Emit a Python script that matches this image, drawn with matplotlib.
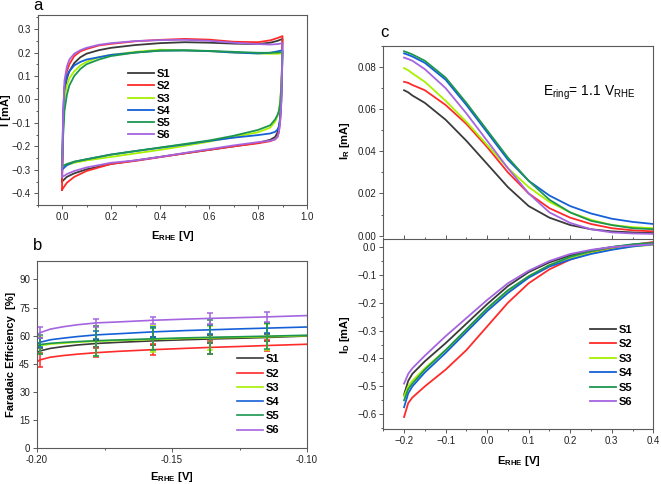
import matplotlib
matplotlib.use("Agg")
import matplotlib.pyplot as plt
import numpy as np
from matplotlib.ticker import MultipleLocator

plt.rcParams["font.family"] = ["Liberation Sans", "DejaVu Sans"]
plt.rcParams["mathtext.fontset"] = "custom"
plt.rcParams["mathtext.rm"] = "Liberation Sans"
plt.rcParams["mathtext.bf"] = "Liberation Sans:bold"
plt.rcParams["mathtext.it"] = "Liberation Sans:italic"

W, H = 661, 484

samples = ["S1", "S2", "S3", "S4", "S5", "S6"]
colors = ["#3a3a3a", "#ff2a2a", "#a6f000", "#1560d8", "#1d9650", "#a565e0"]

# --- panel a: cyclic voltammograms (anodic branch, then cathodic branch back to 0)
cv_e_up = [0.0, 0.005, 0.01, 0.02, 0.03, 0.05, 0.075, 0.1, 0.15, 0.2, 0.3, 0.4, 0.5,
           0.6, 0.7, 0.8, 0.85, 0.88, 0.9]
cv_i_up = {
    "S1": [-0.35, -0.10, 0.02, 0.09, 0.12, 0.155, 0.18, 0.195, 0.21, 0.22, 0.232, 0.240,
           0.244, 0.242, 0.238, 0.236, 0.242, 0.250, 0.258],
    "S2": [-0.385, -0.10, 0.05, 0.12, 0.15, 0.185, 0.205, 0.215, 0.23, 0.237, 0.248, 0.254,
           0.258, 0.255, 0.246, 0.244, 0.252, 0.262, 0.270],
    "S3": [-0.29, -0.10, 0.0, 0.06, 0.09, 0.12, 0.145, 0.16, 0.18, 0.19, 0.203, 0.212,
           0.210, 0.206, 0.200, 0.196, 0.195, 0.195, 0.196],
    "S4": [-0.30, -0.05, 0.05, 0.10, 0.12, 0.145, 0.16, 0.17, 0.18, 0.19, 0.200, 0.208,
           0.209, 0.206, 0.200, 0.196, 0.199, 0.205, 0.210],
    "S5": [-0.285, -0.15, -0.05, 0.02, 0.06, 0.10, 0.13, 0.15, 0.17, 0.185, 0.200, 0.208,
           0.209, 0.207, 0.203, 0.199, 0.199, 0.200, 0.202],
    "S6": [-0.33, -0.05, 0.08, 0.14, 0.17, 0.195, 0.21, 0.22, 0.233, 0.24, 0.249, 0.253,
           0.254, 0.250, 0.242, 0.236, 0.234, 0.236, 0.240],
}
cv_e_down = [0.9, 0.898, 0.895, 0.89, 0.885, 0.88, 0.87, 0.85, 0.8, 0.7, 0.6, 0.5, 0.4,
             0.3, 0.2, 0.1, 0.05, 0.02, 0.01, 0.0]
cv_i_down = {
    "S1": [0.258, 0.15, 0.02, -0.08, -0.12, -0.14, -0.16, -0.172, -0.185, -0.200, -0.215,
           -0.230, -0.245, -0.260, -0.275, -0.298, -0.315, -0.330, -0.340, -0.35],
    "S2": [0.270, 0.15, 0.0, -0.10, -0.14, -0.158, -0.170, -0.178, -0.187, -0.200, -0.215,
           -0.230, -0.246, -0.262, -0.275, -0.305, -0.330, -0.355, -0.370, -0.385],
    "S3": [0.196, 0.12, 0.06, -0.01, -0.05, -0.07, -0.095, -0.12, -0.140, -0.160, -0.180,
           -0.198, -0.215, -0.230, -0.245, -0.260, -0.270, -0.280, -0.285, -0.29],
    "S4": [0.210, 0.10, -0.01, -0.09, -0.115, -0.128, -0.138, -0.145, -0.152, -0.163, -0.177,
           -0.192, -0.206, -0.220, -0.235, -0.255, -0.266, -0.280, -0.290, -0.30],
    "S5": [0.202, 0.12, 0.05, -0.02, -0.05, -0.065, -0.085, -0.11, -0.130, -0.155, -0.175,
           -0.190, -0.205, -0.220, -0.235, -0.255, -0.265, -0.275, -0.280, -0.285],
    "S6": [0.240, 0.12, -0.02, -0.10, -0.14, -0.160, -0.170, -0.176, -0.182, -0.196, -0.212,
           -0.228, -0.245, -0.260, -0.270, -0.290, -0.305, -0.318, -0.325, -0.33],
}

# --- panel b: faradaic efficiency with error bars
fe_e = [-0.2, -0.199, -0.195, -0.19, -0.185, -0.178, -0.17, -0.157, -0.145, -0.136,
        -0.125, -0.115, -0.1]
fe_vals = {
    "S1": [51.0, 51.8, 53.2, 54.2, 55.0, 55.8, 56.4, 57.2, 57.8, 58.2, 58.6, 59.0, 59.8],
    "S2": [46.0, 47.0, 48.5, 49.4, 50.1, 50.9, 51.6, 52.5, 53.2, 53.7, 54.2, 54.7, 55.4],
    "S3": [54.0, 54.6, 55.5, 56.0, 56.5, 57.0, 57.4, 58.0, 58.5, 58.8, 59.1, 59.4, 60.0],
    "S4": [55.5, 56.4, 57.8, 58.7, 59.5, 60.4, 61.0, 62.0, 62.7, 63.1, 63.6, 64.0, 64.6],
    "S5": [54.5, 55.2, 55.9, 56.4, 56.8, 57.3, 57.7, 58.3, 58.8, 59.1, 59.4, 59.7, 60.2],
    "S6": [60.0, 61.5, 63.5, 64.8, 65.8, 66.8, 67.3, 68.2, 68.8, 69.2, 69.6, 70.0, 70.7],
}
fe_err_idx = [1, 5, 7, 9, 11]
fe_err = {
    "S1": [1.5, 2.0, 2.0, 2.0, 2.0],
    "S2": [3.5, 2.5, 2.8, 3.5, 3.0],
    "S3": [4.5, 8.0, 7.0, 6.5, 7.0],
    "S4": [2.5, 2.2, 2.5, 2.5, 2.5],
    "S5": [5.0, 8.0, 6.0, 9.0, 7.0],
    "S6": [3.0, 2.0, 2.0, 3.0, 2.5],
}

# --- panel c: RRDE ring / disk currents
rrde_e = [-0.2, -0.19, -0.18, -0.15, -0.1, -0.05, 0.0, 0.05, 0.1, 0.15, 0.2, 0.25, 0.3,
          0.35, 0.4]
ring_i = {
    "S1": [0.069, 0.068, 0.0665, 0.063, 0.055, 0.045, 0.034, 0.023, 0.014, 0.0085, 0.005,
           0.003, 0.002, 0.0015, 0.0012],
    "S2": [0.073, 0.0725, 0.0715, 0.069, 0.062, 0.053, 0.042, 0.030, 0.020, 0.013, 0.0085,
           0.0055, 0.0035, 0.0025, 0.002],
    "S3": [0.0795, 0.0785, 0.077, 0.073, 0.064, 0.054, 0.043, 0.032, 0.023, 0.016, 0.011,
           0.0075, 0.005, 0.004, 0.0035],
    "S4": [0.0865, 0.0858, 0.085, 0.082, 0.074, 0.062, 0.049, 0.036, 0.026, 0.019, 0.014,
           0.0105, 0.008, 0.0065, 0.0055],
    "S5": [0.0875, 0.0868, 0.086, 0.083, 0.075, 0.063, 0.050, 0.037, 0.026, 0.017, 0.011,
           0.007, 0.005, 0.0035, 0.003],
    "S6": [0.0845, 0.0838, 0.083, 0.079, 0.070, 0.058, 0.045, 0.032, 0.020, 0.011, 0.006,
           0.003, 0.0015, 0.001, 0.0008],
}
disk_i = {
    "S1": [-0.53, -0.48, -0.455, -0.41, -0.345, -0.275, -0.205, -0.14, -0.09, -0.055, -0.03,
           -0.012, 0.0, 0.008, 0.012],
    "S2": [-0.61, -0.56, -0.54, -0.50, -0.44, -0.37, -0.285, -0.20, -0.13, -0.08, -0.045,
           -0.02, -0.005, 0.008, 0.018],
    "S3": [-0.535, -0.50, -0.48, -0.435, -0.37, -0.30, -0.225, -0.16, -0.105, -0.065, -0.04,
           -0.022, -0.008, 0.002, 0.008],
    "S4": [-0.575, -0.525, -0.50, -0.45, -0.38, -0.305, -0.23, -0.165, -0.11, -0.07, -0.045,
           -0.025, -0.01, 0.002, 0.01],
    "S5": [-0.55, -0.51, -0.49, -0.44, -0.37, -0.295, -0.22, -0.155, -0.105, -0.065, -0.035,
           -0.015, 0.0, 0.01, 0.015],
    "S6": [-0.49, -0.455, -0.435, -0.39, -0.32, -0.255, -0.19, -0.13, -0.085, -0.05, -0.025,
           -0.01, 0.0, 0.005, 0.01],
}

FRAME = "#5a5a5a"


def px_axes(fig, left, top, right, bottom):
    return fig.add_axes([left / W, 1 - bottom / H, (right - left) / W, (bottom - top) / H])


def style_axes(ax):
    for sp in ax.spines.values():
        sp.set_color(FRAME)
        sp.set_linewidth(0.8)
    ax.tick_params(which="both", direction="out", color=FRAME, labelsize=7,
                   labelcolor="#222222", width=0.7)
    ax.tick_params(which="major", length=3, pad=2)
    ax.tick_params(which="minor", length=1.6)


def bold_legend(ax, anchor, spacing):
    return ax.legend(loc="upper left", bbox_to_anchor=anchor, frameon=False,
                     prop={"weight": "bold", "size": 8}, handlelength=2.3,
                     handletextpad=0.3, labelspacing=spacing, borderpad=0,
                     borderaxespad=0)


E_LABEL = r"$\mathbf{E}_{\mathbf{RHE}}$ [V]"

fig = plt.figure(figsize=(W / 100, H / 100), dpi=100)

# panel a
ax_a = px_axes(fig, 37.5, 15, 307, 205)
style_axes(ax_a)
for s, c in zip(samples, colors):
    e = cv_e_up + cv_e_down
    i = cv_i_up[s] + cv_i_down[s]
    ax_a.plot(e, i, color=c, lw=1.3, label=s)
ax_a.set_xlim(-0.1, 1.0)
ax_a.set_ylim(-0.45, 0.36)
ax_a.xaxis.set_major_locator(MultipleLocator(0.2))
ax_a.xaxis.set_minor_locator(MultipleLocator(0.1))
ax_a.yaxis.set_major_locator(MultipleLocator(0.1))
ax_a.yaxis.set_minor_locator(MultipleLocator(0.05))
ax_a.set_xlabel(E_LABEL, fontsize=8, fontweight="bold", labelpad=5)
ax_a.set_ylabel("I [mA]", fontsize=8, fontweight="bold", labelpad=0)
bold_legend(ax_a, (0.336, 0.715), 0.2)
fig.text(33 / W, 1 - 6 / H, "a", fontsize=12, ha="left", va="center")

# panel b
ax_b = px_axes(fig, 37, 260.7, 307, 448)
style_axes(ax_b)
for s, c in zip(samples, colors):
    ax_b.plot(fe_e, fe_vals[s], color=c, lw=1.2, label=s)
for s, c in zip(samples, colors):
    xe = [fe_e[k] for k in fe_err_idx]
    ye = [fe_vals[s][k] for k in fe_err_idx]
    ax_b.errorbar(xe, ye, yerr=fe_err[s], fmt="none", ecolor=c, elinewidth=1.1,
                  capsize=2.4, capthick=1.1)
ax_b.set_xlim(-0.2, -0.1)
ax_b.set_ylim(0, 100)
ax_b.xaxis.set_major_locator(MultipleLocator(0.05))
ax_b.xaxis.set_minor_locator(MultipleLocator(0.025))
ax_b.yaxis.set_major_locator(MultipleLocator(15))
ax_b.xaxis.set_major_formatter(plt.FormatStrFormatter("%.2f"))
ax_b.set_xlabel(E_LABEL, fontsize=8, fontweight="bold", labelpad=4)
ax_b.set_ylabel("Faradaic Efficiency  [%]", fontsize=8, fontweight="bold", labelpad=2)
bold_legend(ax_b, (0.741, 0.50), 0.38)
fig.text(33 / W, 1 - 246 / H, "b", fontsize=12, ha="left", va="center")

# panel c, ring current
ax_r = px_axes(fig, 383.3, 46, 653.3, 236)
style_axes(ax_r)
for s, c in zip(samples, colors):
    ax_r.plot(rrde_e, ring_i[s], color=c, lw=1.3, label=s)
ax_r.set_xlim(-0.25, 0.4)
ax_r.set_ylim(-0.0002, 0.09)
ax_r.spines["bottom"].set_visible(False)
ax_r.tick_params(axis="x", which="both", bottom=False, labelbottom=False)
ax_r.yaxis.set_major_locator(MultipleLocator(0.02))
ax_r.yaxis.set_minor_locator(MultipleLocator(0.01))
ax_r.yaxis.set_major_formatter(plt.FormatStrFormatter("%.2f"))
ax_r.set_ylabel(r"$\mathbf{I}_{\mathbf{R}}$ [mA]", fontsize=8, fontweight="bold", labelpad=4)
ax_r.text(0.59, 0.753, r"$\mathrm{E}_{\mathrm{ring}}$= 1.1 V$_{\mathrm{RHE}}$",
          transform=ax_r.transAxes, fontsize=10, ha="left", va="center")
fig.text(380 / W, 1 - 33 / H, "c", fontsize=12, ha="left", va="center")

# panel c, disk current
ax_d = px_axes(fig, 383.3, 239.5, 653.3, 429)
style_axes(ax_d)
for s, c in zip(samples, colors):
    ax_d.plot(rrde_e, disk_i[s], color=c, lw=1.3, label=s)
ax_d.set_xlim(-0.25, 0.4)
ax_d.set_ylim(-0.653, 0.027)
ax_d.xaxis.set_major_locator(MultipleLocator(0.1))
ax_d.xaxis.set_minor_locator(MultipleLocator(0.05))
ax_d.yaxis.set_major_locator(MultipleLocator(0.1))
ax_d.yaxis.set_minor_locator(MultipleLocator(0.05))
ax_d.tick_params(axis="x", which="both", top=True)
ax_d.set_xlabel(E_LABEL, fontsize=8, fontweight="bold", labelpad=6)
ax_d.set_ylabel(r"$\mathbf{I}_{\mathbf{D}}$ [mA]", fontsize=8, fontweight="bold", labelpad=4)
bold_legend(ax_d, (0.766, 0.55), 0.4)

fig.savefig("out.png", dpi=100)
